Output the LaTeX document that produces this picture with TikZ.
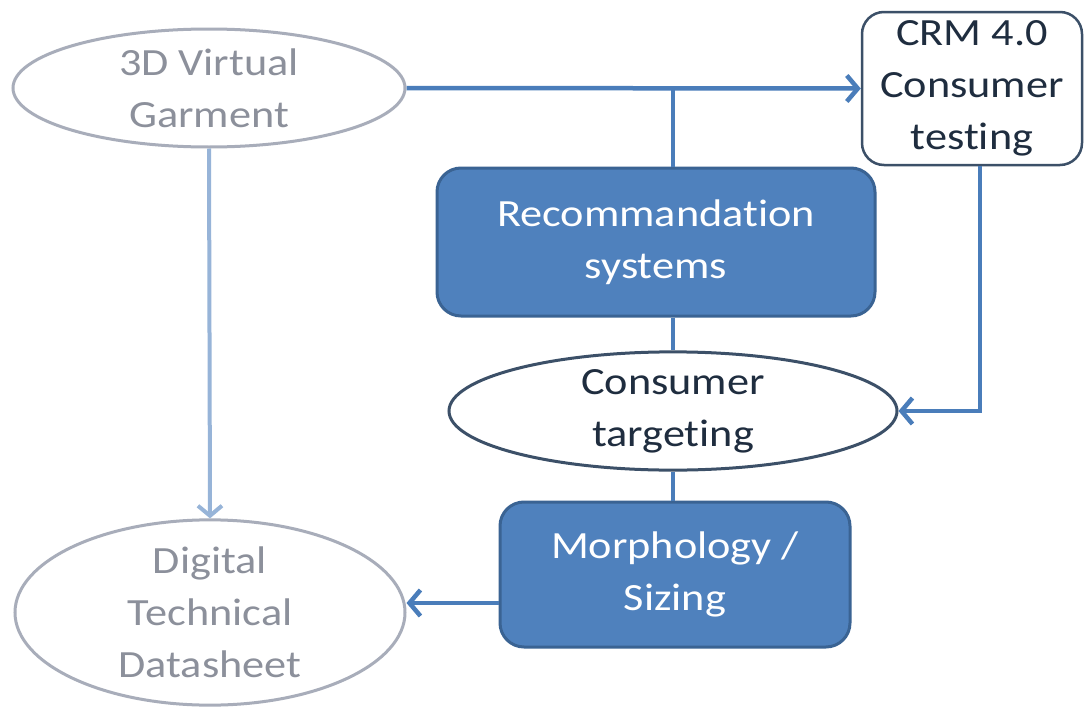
\documentclass[tikz,border=0pt]{standalone}
\usepackage{fontspec}
\setmainfont{Carlito}[FakeStretch=1.15, Ligatures=NoCommon]
\usetikzlibrary{shapes.geometric,arrows.meta,calc}

\definecolor{boxfill}{HTML}{4F81BD}
\definecolor{boxline}{HTML}{3A6393}
\definecolor{linkblue}{HTML}{4A7DBA}
\definecolor{lightlink}{HTML}{97B4D8}
\definecolor{paleline}{HTML}{A8ADBA}
\definecolor{paletext}{HTML}{8C909B}
\definecolor{darkline}{HTML}{3C5068}
\definecolor{darktext}{HTML}{1F2D3F}

\tikzset{
  every node/.style={align=center, inner sep=0pt, font=\fontsize{38.5}{52}\selectfont},
  paleoval/.style={ellipse, draw=paleline, line width=3pt, text=paletext},
  darkoval/.style={ellipse, draw=darkline, line width=3pt, text=darktext},
  bluebox/.style={rectangle, rounded corners=24pt, fill=boxfill, draw=boxline,
    line width=3pt, text=white},
  whitebox/.style={rectangle, rounded corners=22pt, draw=darkline,
    line width=2.5pt, text=darktext},
  link/.style={draw=linkblue, line width=4.5pt},
  arrowlink/.style={link, -{Straight Barb[length=11pt,width=26pt,line width=4.5pt]}},
  lightarrow/.style={draw=lightlink, line width=4pt,
    -{Straight Barb[length=10pt,width=24pt,line width=4pt]}},
}

\begin{document}
\begin{tikzpicture}[x=1pt,y=-1pt]
  \useasboundingbox[fill=white] (0,0) rectangle (1085,712);

  % nodes
  \node[paleoval, minimum width=392pt, minimum height=118pt] (garment) at (209,88)
    {3D Virtual\\Garment};
  \node[whitebox, minimum width=220pt, minimum height=153pt] (crm) at (972,88.5)
    {CRM 4.0\\Consumer\\testing};
  \node[bluebox, minimum width=438pt, minimum height=148pt] (reco) at (656,242)
    {Recommandation\\systems};
  \node[darkoval, minimum width=448pt, minimum height=112pt] (target) at (673,411)
    {Consumer\\targeting};
  \node[bluebox, minimum width=350pt, minimum height=145pt] (morph) at (675,574.5)
    {Morphology /\\Sizing};
  \node[paleoval, minimum width=390pt, minimum height=155pt] (sheet) at (210,612.5)
    {Digital\\Technical\\Datasheet};

  % junction points of the connectors
  \coordinate (join) at (673,88);
  \coordinate (crmdrop) at (980,0);
  \coordinate (side) at (0,603);

  % connectors
  \draw[arrowlink] (garment.east) -- (crm.west);
  \draw[link] (reco.north -| join) -- (join);
  \draw[link] (reco.south -| join) -- (target.north);
  \draw[link] (target.south) -- (morph.north -| target.south);
  \draw[arrowlink] (crm.south -| crmdrop) |- (target.east);
  \draw[arrowlink] (morph.west |- side) -- (sheet.east |- side);
  \draw[lightarrow] (garment.south) -- (sheet.north);
\end{tikzpicture}
\end{document}
